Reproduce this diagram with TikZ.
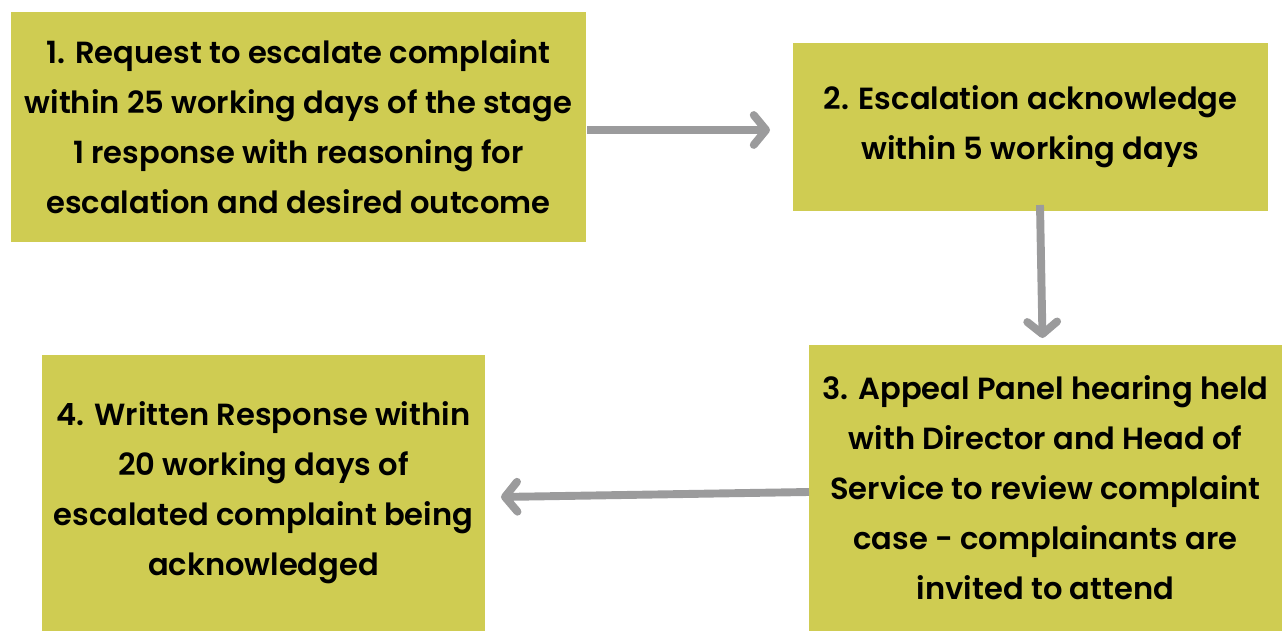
\documentclass[tikz,border=0pt]{standalone}
\usepackage{fontspec}
\setmainfont{Poppins}[BoldFont={Poppins SemiBold}]
\usepackage{tikz}
\usetikzlibrary{arrows.meta,positioning}
\definecolor{boxgreen}{HTML}{CFCC52}
\definecolor{arrowgrey}{HTML}{9B9B9C}
\newcommand{\boxfont}{\fontsize{17.4}{28.5}\selectfont\bfseries}

\begin{document}
\begin{tikzpicture}[x=0.02cm,y=-0.02cm]
	\tikzset{stagebox/.style = {fill=boxgreen, draw=none, align=center,
		inner sep=0pt, font=\boxfont}}
	\tikzset{flowarrow/.style = {draw=arrowgrey, line width=4.5pt,
		-{Straight Barb[length=7pt,width=17pt,line width=4.5pt,line cap=round,line join=round]}}}
	\useasboundingbox (0,0) rectangle (1282,631);
	%\draw[help lines,step=50] (0,0) grid (1282,631);
	\node[stagebox, minimum width=11.5cm, minimum height=4.6cm] (req) at (298.5,127)
		{1. Request to escalate complaint\\within 25 working days of the stage\\1 response with reasoning for\\escalation and desired outcome};
	\node[stagebox, minimum width=9.5cm, minimum height=3.36cm] (ack) at (1030.5,127)
		{2. Escalation acknowledge\\within 5 working days};
	\node[stagebox, minimum width=9.46cm, minimum height=5.72cm] (panel) at (1045.5,488)
		{3. Appeal Panel hearing held\\with Director and Head of\\Service to review complaint\\case - complainants are\\invited to attend};
	\node[stagebox, minimum width=8.86cm, minimum height=5.52cm] (resp) at (263.5,493)
		{4. Written Response within\\20 working days of\\escalated complaint being\\acknowledged};
	\coordinate (a1s) at (587,130);
	\coordinate (a1e) at (770,130);
	\coordinate (a2s) at (1040,205);
	\coordinate (a2e) at (1042.5,338);
	\coordinate (a3s) at (809,492);
	\coordinate (a3e) at (501,497);
	\draw[flowarrow] (a1s) -- (a1e);
	\draw[flowarrow] (a2s) -- (a2e);
	\draw[flowarrow] (a3s) -- (a3e);
\end{tikzpicture}
\end{document}
